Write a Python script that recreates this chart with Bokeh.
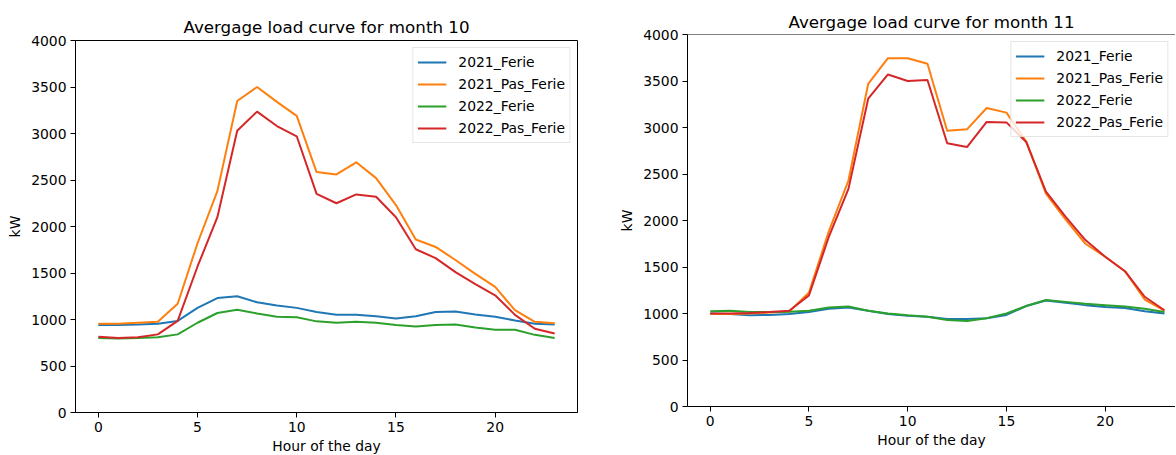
from bokeh.plotting import figure
from bokeh.layouts import row, column
from bokeh.models import Range1d, Span
from bokeh.embed import file_html
from bokeh.resources import INLINE

hours = list(range(24))
series_names = ["2021_Ferie", "2021_Pas_Ferie", "2022_Ferie", "2022_Pas_Ferie"]
colors = ["#1f77b4", "#ff7f0e", "#2ca02c", "#d62728"]
x_ticks = [0, 5, 10, 15, 20]
y_ticks = [0, 500, 1000, 1500, 2000, 2500, 3000, 3500, 4000]

# Month 10
m10_2021_ferie = [940, 940, 945, 955, 985, 1125, 1230, 1250, 1185, 1150, 1125, 1080,
                  1050, 1050, 1035, 1010, 1035, 1080, 1085, 1055, 1030, 990, 955, 945]
m10_2021_pas_ferie = [955, 955, 965, 975, 1170, 1820, 2380, 3350, 3500, 3340, 3190, 2585,
                      2560, 2690, 2520, 2230, 1860, 1780, 1640, 1490, 1350, 1100, 975, 960]
m10_2022_ferie = [800, 795, 800, 810, 840, 965, 1070, 1105, 1065, 1030, 1025, 980,
                  965, 975, 965, 940, 925, 940, 945, 915, 890, 890, 835, 800]
m10_2022_pas_ferie = [815, 800, 810, 840, 985, 1570, 2100, 3030, 3235, 3080, 2970, 2350,
                      2250, 2345, 2320, 2100, 1755, 1660, 1510, 1380, 1260, 1050, 900, 850]

# Month 11
m11_2021_ferie = [1000, 995, 980, 985, 995, 1015, 1050, 1065, 1030, 995, 975, 965,
                  940, 940, 950, 985, 1080, 1140, 1115, 1090, 1070, 1060, 1025, 1000]
m11_2021_pas_ferie = [995, 995, 1000, 1010, 1020, 1225, 1880, 2430, 3470, 3745, 3745, 3685,
                      2965, 2980, 3210, 3160, 2850, 2290, 2010, 1750, 1610, 1455, 1150, 1030]
m11_2022_ferie = [1025, 1030, 1015, 1015, 1020, 1030, 1065, 1075, 1030, 1000, 980, 965,
                  930, 920, 950, 1000, 1080, 1145, 1125, 1105, 1090, 1075, 1050, 1015]
m11_2022_pas_ferie = [1000, 1000, 1005, 1015, 1030, 1195, 1820, 2340, 3310, 3570, 3500, 3510,
                      2830, 2790, 3060, 3055, 2845, 2310, 2040, 1790, 1610, 1455, 1180, 1035]

FONT = "DejaVu Sans"
FS = "13.9px"


def make_fig(title, series, x_end, border_left, border_right, border_top,
             frame_width, title_standoff, full_outline):
    p = figure(frame_width=frame_width, frame_height=372,
               x_range=Range1d(-1.15, x_end), y_range=Range1d(0, 4000),
               output_backend="svg", toolbar_location=None,
               min_border_left=border_left, min_border_top=border_top,
               min_border_right=border_right, min_border_bottom=30,
               background_fill_color="white", border_fill_color="white")
    p.title.text = title
    p.title.text_font = FONT
    p.title.text_font_size = "16.7px"
    p.title.text_font_style = "normal"
    p.title.text_color = "black"
    p.title.align = "center"
    p.title.standoff = title_standoff
    p.grid.visible = False
    if full_outline:
        p.outline_line_color = "black"
        p.outline_line_width = 1
        p.outline_line_alpha = 1
    else:
        p.outline_line_color = None
        p.add_layout(Span(location=4000, dimension="width", line_color="black", line_width=1))

    for vals, name, col in zip(series, series_names, colors):
        p.line(hours, vals, line_color=col, line_width=2, legend_label=name)

    p.xaxis.ticker = x_ticks
    p.yaxis.ticker = y_ticks
    p.xaxis.axis_label = "Hour of the day"
    p.yaxis.axis_label = "kW"
    for ax in (p.xaxis, p.yaxis):
        ax.axis_line_color = "black"
        ax.axis_line_width = 1
        ax.major_tick_line_color = "black"
        ax.major_tick_out = 5
        ax.major_tick_in = 0
        ax.minor_tick_line_color = None
        ax.major_label_text_font = FONT
        ax.major_label_text_font_size = FS
        ax.major_label_text_color = "black"
        ax.major_label_standoff = 4
        ax.axis_label_text_font = FONT
        ax.axis_label_text_font_size = FS
        ax.axis_label_text_font_style = "normal"
        ax.axis_label_text_color = "black"
    p.xaxis.axis_label_standoff = 3
    p.yaxis.axis_label_standoff = 5

    lg = p.legend[0]
    lg.location = "top_right"
    lg.label_text_font = FONT
    lg.label_text_font_size = FS
    lg.label_text_color = "black"
    lg.glyph_width = 29
    lg.glyph_height = 20
    lg.label_height = 20
    lg.label_standoff = 12
    lg.spacing = 2
    lg.padding = 4
    lg.margin = 7
    lg.border_line_color = "#cccccc"
    lg.border_line_width = 1
    lg.background_fill_color = "white"
    lg.background_fill_alpha = 0.8
    return p


p1 = make_fig("Avergage load curve for month 10",
              [m10_2021_ferie, m10_2021_pas_ferie, m10_2022_ferie, m10_2022_pas_ferie],
              24.15, 75, 23, 40, 502, 8, True)
p2 = make_fig("Avergage load curve for month 11",
              [m11_2021_ferie, m11_2021_pas_ferie, m11_2022_ferie, m11_2022_pas_ferie],
              23.56, 87, 0, 34, 488, 6, False)

layout = row(column(p1), column(p2))
open("out.html", "w").write(file_html(layout, INLINE))
